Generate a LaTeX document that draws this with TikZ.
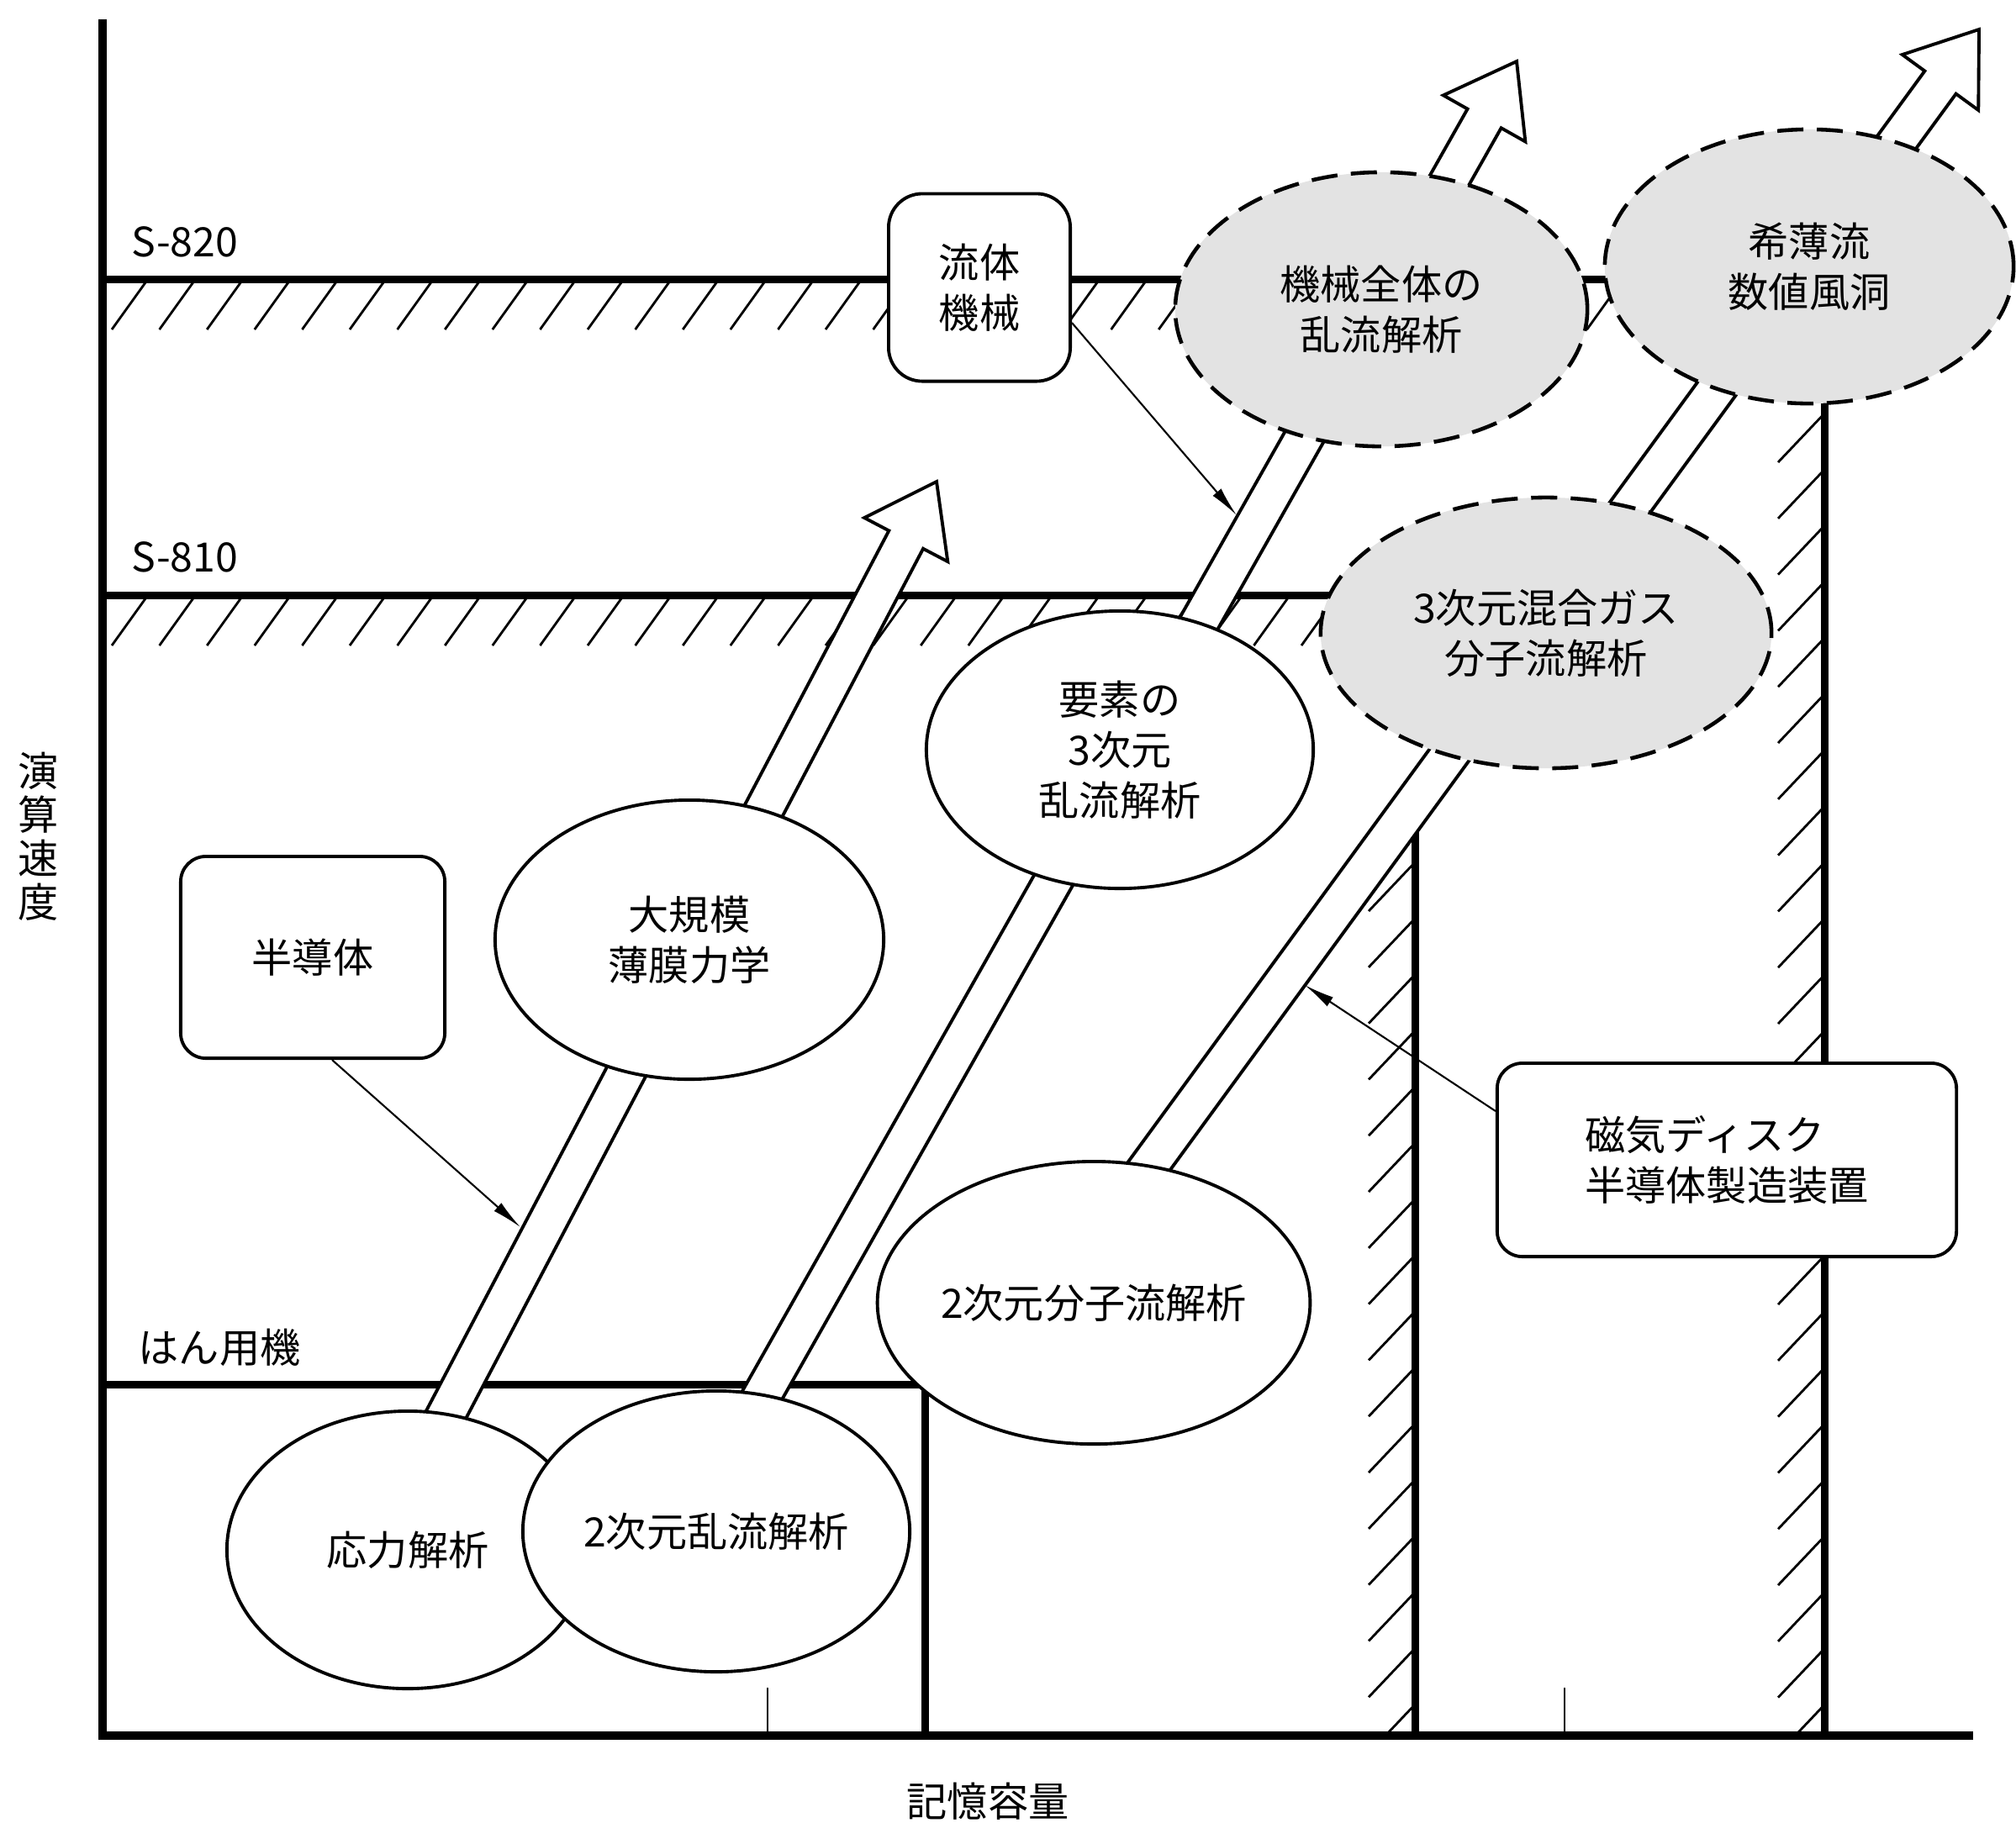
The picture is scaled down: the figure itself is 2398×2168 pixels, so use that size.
\documentclass[tikz,border=0pt]{standalone}
\usepackage{fontspec}
\setmainfont{Noto Sans CJK JP}
\usetikzlibrary{calc,shapes.geometric,arrows.meta}
\newcommand\hollowarrow[3]{%
  \coordinate (#3) at ($(#2)!0.78cm!(#1)$);
  \path[band] ($(#1)!0.23cm!90:(#2)$) -- ($(#3)!0.23cm!90:(#2)$) -- ($(#3)!0.56cm!90:(#2)$) -- (#2)
    -- ($(#3)!0.56cm!-90:(#2)$) -- ($(#3)!0.23cm!-90:(#2)$) -- ($(#1)!0.23cm!-90:(#2)$) -- cycle;}
\begin{document}
\begin{tikzpicture}[x=0.01cm,y=-0.01cm,
  every node/.style={font=\fontsize{13.7pt}{17pt}\selectfont, inner sep=0pt},
  axisline/.style={line width=0.1cm},
  thickline/.style={line width=0.09cm},
  hatchline/.style={line width=0.8pt},
  band/.style={draw, fill=white, line width=1.1pt, line join=miter},
  oval/.style={ellipse, draw, fill=white, line width=1.1pt, align=center},
  dashoval/.style={ellipse, draw, fill=black!11, line width=1.3pt, dash pattern=on 0.31cm off 0.16cm, align=center},
  rbox/.style={draw, fill=white, line width=1.1pt, rounded corners=0.3cm, align=center},
  thinarrow/.style={line width=0.6pt, -{Latex[length=0.36cm,width=0.13cm]}},
  tickline/.style={line width=0.7pt}
]
\useasboundingbox (0,0) rectangle (2398,2168);

% level lines
\draw[thickline] (122,332) -- (2170,332);
\draw[thickline] (122,708) -- (1700,708);
\draw[thickline] (122,1647) -- (1100,1647) -- (1100,2065);
\draw[thickline] (1683,960) -- (1683,2065);
\draw[thickline] (2170,332) -- (2170,2065);

% hatching
\foreach \k in {0,...,31} \draw[hatchline] ({176+56.6*\k},332) -- ++(-43,60);
\foreach \k in {0,...,26} \draw[hatchline] ({176+56.6*\k},708) -- ++(-43,60);
\begin{scope}
  \clip (0,0) rectangle (2398,2062);
  \foreach \k in {0,...,23} \draw[hatchline] (2170,{492+66.8*\k}) -- ++(-55,58);
  \foreach \k in {0,...,15} \draw[hatchline] (1683,{1026+66.8*\k}) -- ++(-55,58);
\end{scope}

% axes and ticks
\draw[axisline] (122,23) -- (122,2065) -- (2347,2065);
\draw[tickline] (913,2008) -- (913,2065);
\draw[tickline] (1861,2008) -- (1861,2065);

% axis and level labels
\node[anchor=west] (s820) at (156,288) {S-820};
\node[anchor=west] (s810) at (156,663) {S-810};
\node[anchor=west] (hanyo) at (164,1603) {はん用機};
\node[align=center, font=\fontsize{13.7pt}{14.8pt}\selectfont] (ylab) at (46,995) {演\\算\\速\\度};
\node (xlab) at (1175,2143) {記憶容量};

% hollow development arrows
\coordinate (sA) at (446,1844);  \coordinate (tA) at (1114,573);
\coordinate (sB) at (815,1822);  \coordinate (tB) at (1804,73);
\coordinate (sC) at (1248,1550); \coordinate (tC) at (2354,35);
\hollowarrow{sA}{tA}{nA}
\hollowarrow{sB}{tB}{nB}
\hollowarrow{sC}{tC}{nC}

% ellipses
\node[oval, minimum width=4.3cm, minimum height=3.3cm] (e1) at (485,1844) {応力解析};
\node[oval, minimum width=4.6cm, minimum height=3.34cm] (e2) at (852,1822) {2次元乱流解析};
\node[oval, minimum width=4.62cm, minimum height=3.32cm] (e3) at (820,1118) {大規模\\薄膜力学};
\node[oval, minimum width=4.6cm, minimum height=3.3cm] (e4) at (1332,892) {要素の\\3次元\\乱流解析};
\node[oval, minimum width=4.62cm, minimum height=3.36cm] (e5) at (1301,1550) {2次元分子流解析};
\node[dashoval, minimum width=4.9cm, minimum height=3.26cm] (e6) at (1643,368) {機械全体の\\乱流解析};
\node[dashoval, minimum width=4.86cm, minimum height=3.26cm] (e7) at (2152,317) {希薄流\\数値風洞};
\node[dashoval, minimum width=5.36cm, minimum height=3.22cm] (e8) at (1839,753) {3次元混合ガス\\分子流解析};

% boxes
\node[rbox, rounded corners=0.4cm, minimum width=2.16cm, minimum height=2.23cm] (fluid) at (1165,342) {流体\\機械};
\node[rbox, minimum width=3.14cm, minimum height=2.4cm] (semi) at (372,1139) {半導体};
\node[rbox, align=left, minimum width=5.46cm, minimum height=2.3cm] (mag) at (2054,1380) {磁気ディスク\\半導体製造装置};

% pointer arrows
\coordinate (pA) at (619,1460);
\coordinate (pB) at (1471,613);
\coordinate (pC) at (1552,1172);
\draw[thinarrow] ([xshift=0.23cm]semi.south) -- (pA);
\draw[thinarrow] ([yshift=-0.42cm]fluid.east) -- (pB);
\draw[thinarrow] ([yshift=0.58cm]mag.west) -- (pC);
\end{tikzpicture}
\end{document}
